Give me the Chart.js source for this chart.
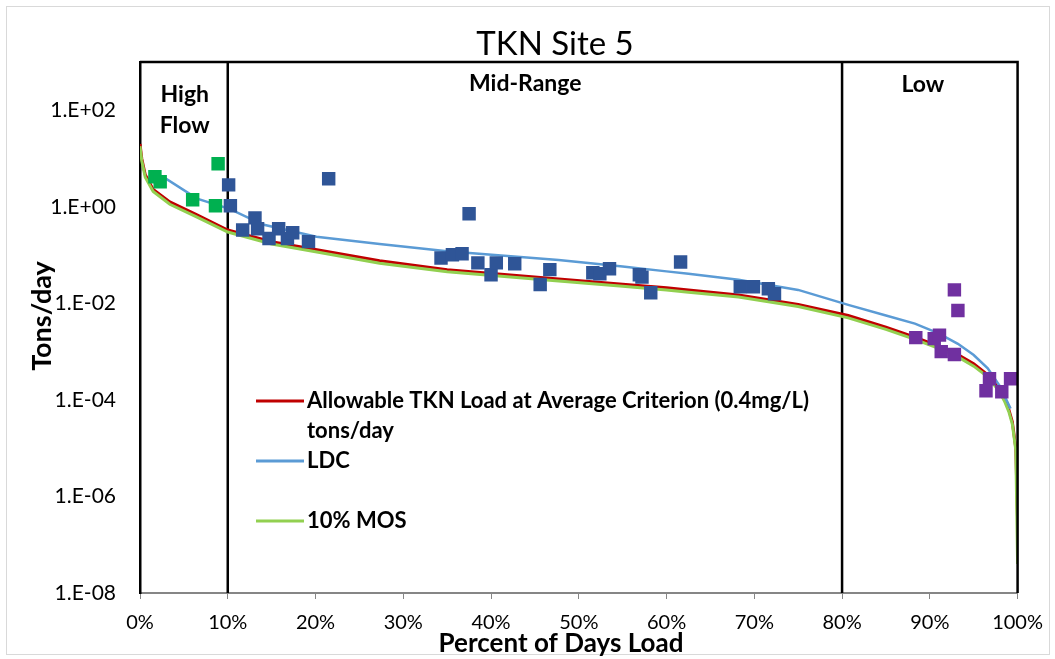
<!DOCTYPE html>
<html>
<head>
<meta charset="utf-8">
<script src="https://cdn.jsdelivr.net/npm/chart.js@4/dist/chart.umd.min.js"></script>
<style>
  html, body { margin: 0; padding: 0; background: #fff; }
  #wrap { position: relative; width: 1055px; height: 659px; }
  canvas { display: block; }
</style>
</head>
<body>
<div id="wrap"><canvas id="c" width="1055" height="659"></canvas></div>
<script>
// ---------- data ----------
const chartTitle = 'TKN Site 5';
const xAxisTitle = 'Percent of Days Load';
const yAxisTitle = 'Tons/day';

const xTickValues = [0, 10, 20, 30, 40, 50, 60, 70, 80, 90, 100];
const xTickLabels = ['0%', '10%', '20%', '30%', '40%', '50%', '60%', '70%', '80%', '90%', '100%'];
const yTickValues = [1e-8, 1e-7, 1e-6, 1e-5, 1e-4, 1e-3, 1e-2, 1e-1, 1e0, 1e1, 1e2, 1e3];
const yTickLabels = ['1.E-08', '', '1.E-06', '', '1.E-04', '', '1.E-02', '', '1.E+00', '', '1.E+02', ''];

// Allowable load curve and 10% MOS curve (percent of days, tons/day)
const curveX = [0, 0.2, 0.6, 1.5, 3.4, 6.5, 10, 15, 20, 27.3, 35, 47.7, 55, 60, 62.5, 68.2, 75, 80.7, 85, 88.3, 91, 93.2, 95, 96.6, 97.8, 98.5, 99.0, 99.4, 99.8, 100];
const allowableY = [20, 10, 4.6, 2.3, 1.26, 0.68, 0.33, 0.19, 0.13, 0.076, 0.050, 0.032, 0.025, 0.021, 0.019, 0.015, 0.0095, 0.0056, 0.0032, 0.0020, 0.0013, 0.00087, 0.00056, 0.00033, 0.00018, 0.000105, 0.000063, 0.000035, 0.00001, 3.2e-7];
const mosY = [18, 9.0, 4.1, 2.07, 1.13, 0.61, 0.30, 0.17, 0.117, 0.068, 0.045, 0.029, 0.0225, 0.019, 0.017, 0.0135, 0.0086, 0.005, 0.0029, 0.0018, 0.00117, 0.00078, 0.0005, 0.0003, 0.00016, 0.000095, 0.000057, 0.0000315, 0.000009, 4e-8];

// LDC curve
const ldcX = [1.2, 2.6, 6.5, 10.2, 14, 20.1, 27.3, 35, 47.7, 55, 60, 62.5, 68.2, 75, 80.7, 85, 88.3, 91, 93.2, 95, 96.6, 98, 99.2];
const ldcY = [5.0, 4.2, 1.48, 0.91, 0.43, 0.24, 0.17, 0.12, 0.079, 0.058, 0.046, 0.041, 0.031, 0.019, 0.0093, 0.0056, 0.0038, 0.0024, 0.00145, 0.00085, 0.00045, 0.00019, 0.000066];

// Observed loads
const highX = [1.7, 2.3, 6.0, 8.9, 8.6];
const highY = [4.2, 3.3, 1.4, 7.8, 1.05];

const midX = [10.1, 10.3, 21.5, 11.7, 13.1, 13.4, 14.7, 15.8, 16.8, 17.4, 19.2, 34.3, 35.6, 36.7, 37.5, 38.5, 40.0, 40.6, 42.7, 45.6, 46.7, 51.6, 52.4, 53.5, 56.9, 57.2, 58.2, 61.6, 68.4, 69.9, 71.6, 72.3];
const midY = [2.85, 1.05, 3.8, 0.33, 0.59, 0.35, 0.22, 0.35, 0.22, 0.29, 0.19, 0.087, 0.102, 0.107, 0.72, 0.069, 0.039, 0.069, 0.066, 0.0245, 0.050, 0.043, 0.041, 0.052, 0.039, 0.035, 0.0166, 0.072, 0.022, 0.022, 0.020, 0.0158];

const lowX = [92.8, 93.2, 88.4, 90.5, 91.1, 91.3, 92.8, 96.8, 96.4, 98.2, 99.2];
const lowY = [0.019, 0.0071, 0.00195, 0.00186, 0.0022, 0.001, 0.00087, 0.000275, 0.000155, 0.000148, 0.000275];

// Flow regime boundaries
const regionBounds = [10, 80];
const regionNames = [['High', 'Flow'], ['Mid-Range'], ['Low']];
const regionLabelX = [5.1, 43.9, 89.2];

const legendNames = [['Allowable TKN Load at Average Criterion (0.4mg/L)', 'tons/day'], ['LDC'], [''], ['10% MOS']];

// ---------- helpers ----------
const pts = (xs, ys) => xs.map((x, i) => ({ x: x, y: ys[i] }));
const FONT = 'Lato, "Open Sans", "Liberation Sans", sans-serif';

const boundaryDatasets = regionBounds.map(b => ({
  label: 'bound' + b,
  data: [{ x: b, y: 1e-8 }, { x: b, y: 1e3 }],
  showLine: true, borderColor: '#000', borderWidth: 2.5, pointRadius: 0, order: 5
}));

const colors = { allow: '#C00000', ldc: '#5B9BD5', mos: '#92D050', high: '#00B050', mid: '#2F5597', low: '#7030A0' };

const decorPlugin = {
  id: 'decor',
  beforeDraw(chart) {
    const ctx = chart.ctx;
    ctx.save();
    ctx.fillStyle = '#fff';
    ctx.fillRect(0, 0, chart.width, chart.height);
    ctx.strokeStyle = '#d9d9d9';
    ctx.lineWidth = 1;
    ctx.strokeRect(6.5, 6.5, chart.width - 12, chart.height - 11);
    ctx.restore();
  },
  afterDraw(chart) {
    const ctx = chart.ctx;
    const a = chart.chartArea;
    const xs = chart.scales.x;
    ctx.save();
    // frame top / right
    ctx.strokeStyle = '#000';
    ctx.lineWidth = 2.5;
    ctx.beginPath();
    ctx.moveTo(a.left, a.top);
    ctx.lineTo(a.right, a.top);
    ctx.lineTo(a.right, a.bottom);
    ctx.stroke();

    ctx.fillStyle = '#000';
    ctx.textAlign = 'center';
    ctx.textBaseline = 'middle';

    // chart title
    ctx.font = 'normal 33px ' + FONT;
    ctx.fillText(chartTitle, 555, 44);

    // axis titles
    ctx.font = 'bold 26px ' + FONT;
    ctx.fillText(xAxisTitle, 561, 644);
    ctx.save();
    ctx.translate(42, 316);
    ctx.rotate(-Math.PI / 2);
    ctx.font = 'bold 27px ' + FONT;
    ctx.fillText(yAxisTitle, 0, 0);
    ctx.restore();

    // region labels
    ctx.font = 'bold 23px ' + FONT;
    const rowY = [[95, 126], [84], [85]];
    regionNames.forEach((lines, i) => {
      const px = xs.getPixelForValue(regionLabelX[i]);
      lines.forEach((t, j) => ctx.fillText(t, px, rowY[i][j]));
    });

    // legend
    const legColors = [colors.allow, colors.ldc, null, colors.mos];
    const legY = [401, 461, 491, 521];
    ctx.font = 'bold 22px ' + FONT;
    ctx.textAlign = 'left';
    legendNames.forEach((lines, i) => {
      if (legColors[i]) {
        ctx.strokeStyle = legColors[i];
        ctx.lineWidth = 3;
        ctx.beginPath();
        ctx.moveTo(256, legY[i]);
        ctx.lineTo(304, legY[i]);
        ctx.stroke();
      }
      lines.forEach((t, j) => ctx.fillText(t, 307, legY[i] + j * 30));
    });
    ctx.restore();
  }
};

new Chart(document.getElementById('c'), {
  type: 'scatter',
  data: {
    datasets: [
      { label: 'High Flow', data: pts(highX, highY), backgroundColor: colors.high, borderWidth: 0, pointStyle: 'rect', pointRadius: 9.5, order: 0 },
      { label: 'Mid-Range', data: pts(midX, midY), backgroundColor: colors.mid, borderWidth: 0, pointStyle: 'rect', pointRadius: 9.5, order: 0 },
      { label: 'Low', data: pts(lowX, lowY), backgroundColor: colors.low, borderWidth: 0, pointStyle: 'rect', pointRadius: 9.5, order: 0 },
      { label: 'LDC', data: pts(ldcX, ldcY), showLine: true, borderColor: colors.ldc, borderWidth: 2.5, pointRadius: 0, order: 2 },
      { label: '10% MOS', data: pts(curveX, mosY), showLine: true, borderColor: colors.mos, borderWidth: 3, pointRadius: 0, order: 3 },
      { label: 'Allowable TKN Load at Average Criterion (0.4mg/L) tons/day', data: pts(curveX, allowableY), showLine: true, borderColor: colors.allow, borderWidth: 3, pointRadius: 0, order: 4 },
      ...boundaryDatasets
    ]
  },
  options: {
    responsive: false,
    animation: false,
    layout: { padding: { left: 0, right: 35, top: 62, bottom: 0 } },
    plugins: {
      legend: { display: false },
      tooltip: { enabled: false },
      title: { display: false, text: chartTitle }
    },
    scales: {
      x: {
        type: 'linear', min: 0, max: 100,
        afterBuildTicks: s => { s.ticks = xTickValues.map(v => ({ value: v })); },
        afterFit: s => { s.height = 66; },
        ticks: {
          color: '#000', padding: 12, maxRotation: 0, autoSkip: false,
          font: { family: FONT, size: 20 },
          callback: (v) => xTickLabels[xTickValues.indexOf(v)]
        },
        grid: { drawOnChartArea: false, drawTicks: true, tickLength: 6, color: '#868686' },
        border: { display: true, color: '#868686', width: 2 },
        title: { display: false, text: xAxisTitle }
      },
      y: {
        type: 'logarithmic', min: 1e-8, max: 1e3,
        afterBuildTicks: s => { s.ticks = yTickValues.map(v => ({ value: v })); },
        afterFit: s => { s.width = 140; },
        ticks: {
          color: '#000', padding: 24, autoSkip: false,
          font: { family: FONT, size: 21 },
          callback: (v) => { const i = yTickValues.findIndex(t => Math.abs(Math.log10(t) - Math.log10(v)) < 1e-6); return i >= 0 ? yTickLabels[i] : ''; }
        },
        grid: { display: false, drawTicks: false },
        border: { display: true, color: '#000', width: 2.5 },
        title: { display: false, text: yAxisTitle }
      }
    }
  },
  plugins: [decorPlugin]
});
</script>
</body>
</html>
